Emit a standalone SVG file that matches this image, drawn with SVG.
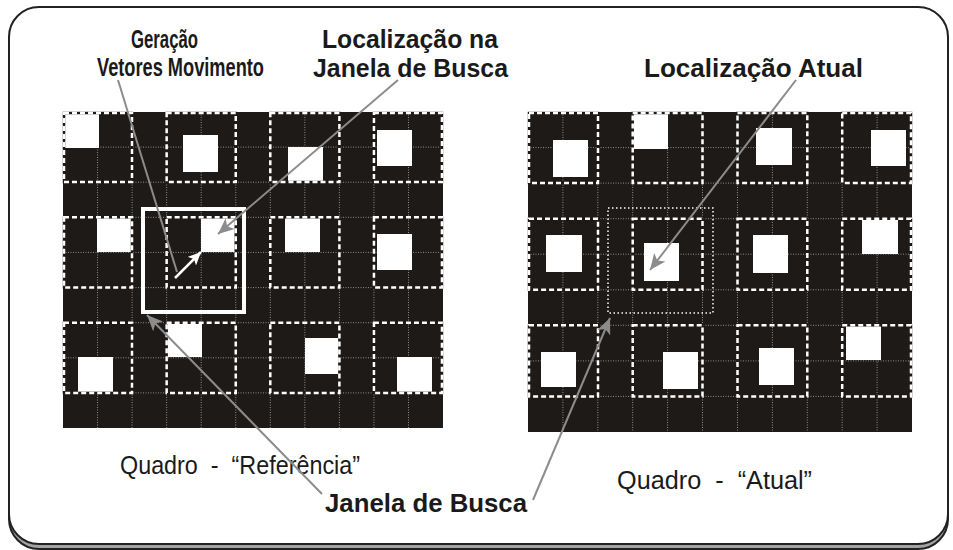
<svg xmlns="http://www.w3.org/2000/svg" width="953" height="550" viewBox="0 0 953 550">
<style>
.frame{fill:#1e1a18}
.grid{stroke:#8f8f8f;stroke-width:1;stroke-dasharray:1 1.5;fill:none}
.blk{fill:none;stroke:#fff;stroke-width:2.5;stroke-dasharray:5 3}
.blkb{fill:none;stroke:#1e1a18;stroke-width:2.5}
.sq{fill:#fff}
.lbl{font-family:"Liberation Sans",Arial,sans-serif;font-weight:bold;font-size:25px;fill:#1a1a1a}
.cap{font-family:"Liberation Sans",Arial,sans-serif;font-size:25px;fill:#1a1a1a}
.ptr{stroke:#8c8c8c;stroke-width:2;fill:none}
</style>
<defs>
<marker id="ah" markerUnits="userSpaceOnUse" markerWidth="18" markerHeight="14" refX="16" refY="7" orient="auto">
<path d="M0,0 L16,7 L0,14 L4,7 Z" fill="#8c8c8c"/>
</marker>
<marker id="ahw" markerUnits="userSpaceOnUse" markerWidth="14" markerHeight="12" refX="13" refY="6" orient="auto">
<path d="M0,0 L13,6 L0,12 L3,6 Z" fill="#fff"/>
</marker>
<g id="blocksL">
<rect x="64" y="113" width="68" height="69"/>
<rect x="166.65" y="113" width="69.1" height="69"/>
<rect x="270.3" y="113" width="69.1" height="69"/>
<rect x="373.95" y="113" width="68" height="69"/>
<rect x="64" y="217.3" width="68" height="70.2"/>
<rect x="166.65" y="217.3" width="69.1" height="70.2"/>
<rect x="270.3" y="217.3" width="69.1" height="70.2"/>
<rect x="373.95" y="217.3" width="68" height="70.2"/>
<rect x="64" y="322.7" width="68" height="70.2"/>
<rect x="166.65" y="322.7" width="69.1" height="70.2"/>
<rect x="270.3" y="322.7" width="69.1" height="70.2"/>
<rect x="373.95" y="322.7" width="68" height="70.2"/>
</g>
<g id="blocksR">
<rect x="529" y="113" width="69" height="70"/>
<rect x="632.7" y="113" width="69.8" height="70"/>
<rect x="737.5" y="113" width="69.8" height="70"/>
<rect x="842.2" y="113" width="68.8" height="70"/>
<rect x="529" y="218.7" width="69" height="71.1"/>
<rect x="632.7" y="218.7" width="69.8" height="71.1"/>
<rect x="737.5" y="218.7" width="69.8" height="71.1"/>
<rect x="842.2" y="218.7" width="68.8" height="71.1"/>
<rect x="529" y="325.3" width="69" height="71.1"/>
<rect x="632.7" y="325.3" width="69.8" height="71.1"/>
<rect x="737.5" y="325.3" width="69.8" height="71.1"/>
<rect x="842.2" y="325.3" width="68.8" height="71.1"/>
</g>
</defs>

<rect x="9" y="12" width="939" height="537" rx="30" fill="#a3a3a3" stroke="#222" stroke-width="2"/>
<rect x="9" y="7" width="939" height="537" rx="30" fill="#fff" stroke="#222" stroke-width="2"/>

<g id="quadro-referencia">
<rect class="frame" x="63" y="112" width="380" height="316"/>
<path class="grid" d="M97.55,112V428M132.1,112V428M166.65,112V428M201.2,112V428M235.75,112V428M270.3,112V428M304.85,112V428M339.4,112V428M373.95,112V428M408.5,112V428M63,147.1H443M63,182.2H443M63,217.3H443M63,252.4H443M63,287.6H443M63,322.7H443M63,357.8H443M63,392.9H443"/>
<rect class="sq" x="63" y="112" width="36" height="36"/>
<rect class="sq" x="183" y="135" width="35" height="37"/>
<rect class="sq" x="288" y="147" width="35" height="35"/>
<rect class="sq" x="377" y="130" width="35" height="36"/>
<rect class="sq" x="97" y="217" width="35" height="35"/>
<rect class="sq" x="201" y="217" width="35" height="35"/>
<rect class="sq" x="285" y="217" width="35" height="35"/>
<rect class="sq" x="377" y="234" width="35" height="36"/>
<rect class="sq" x="78" y="357" width="35" height="35"/>
<rect class="sq" x="167" y="322" width="35" height="35"/>
<rect class="sq" x="305" y="338" width="35" height="36"/>
<rect class="sq" x="397" y="357" width="35" height="35"/>
<use href="#blocksL" class="blkb"/>
<use href="#blocksL" class="blk"/>
<rect id="janela-ref" x="143" y="209" width="101" height="103" fill="none" stroke="#fff" stroke-width="4"/>
</g>

<g id="quadro-atual">
<rect class="frame" x="528" y="112" width="384" height="320"/>
<path class="grid" d="M562.9,112V432M597.8,112V432M632.7,112V432M667.6,112V432M702.5,112V432M737.5,112V432M772.4,112V432M807.3,112V432M842.2,112V432M877.1,112V432M528,147.6H912M528,183.1H912M528,218.7H912M528,254.2H912M528,289.8H912M528,325.3H912M528,360.9H912M528,396.4H912"/>
<rect class="sq" x="553" y="140" width="35" height="37"/>
<rect class="sq" x="633" y="112" width="35" height="37"/>
<rect class="sq" x="756" y="128" width="36" height="37"/>
<rect class="sq" x="871" y="130" width="35" height="36"/>
<rect class="sq" x="546" y="235" width="36" height="37"/>
<rect class="sq" x="644" y="243" width="35" height="38"/>
<rect class="sq" x="753" y="235" width="35" height="38"/>
<rect class="sq" x="862" y="218" width="36" height="36"/>
<rect class="sq" x="541" y="352" width="35" height="35"/>
<rect class="sq" x="663" y="352" width="35" height="37"/>
<rect class="sq" x="759" y="348" width="35" height="37"/>
<rect class="sq" x="846" y="324" width="35" height="36"/>
<use href="#blocksR" class="blkb"/>
<use href="#blocksR" class="blk"/>
<rect id="janela-atual" x="608" y="208" width="105" height="105" fill="none" stroke="#fff" stroke-width="1.5" stroke-dasharray="1.5 2.5"/>
</g>

<g id="label-geracao">
<text class="lbl" x="131" y="48" textLength="67" lengthAdjust="spacingAndGlyphs">Geração</text>
<text class="lbl" x="97" y="76" textLength="167" lengthAdjust="spacingAndGlyphs">Vetores Movimento</text>
</g>
<g id="label-localizacao-janela">
<text class="lbl" x="322" y="48" textLength="176" lengthAdjust="spacingAndGlyphs">Localização na</text>
<text class="lbl" x="313" y="77" textLength="195" lengthAdjust="spacingAndGlyphs">Janela de Busca</text>
</g>
<g id="label-localizacao-atual">
<text class="lbl" x="644" y="77" textLength="219" lengthAdjust="spacingAndGlyphs">Localização Atual</text>
</g>
<g id="label-quadro-ref">
<text class="cap" x="120" y="474" textLength="240" lengthAdjust="spacingAndGlyphs" xml:space="preserve">Quadro  -  “Referência”</text>
</g>
<g id="label-quadro-atual">
<text class="cap" x="617" y="489" textLength="195" lengthAdjust="spacingAndGlyphs" xml:space="preserve">Quadro  -  “Atual”</text>
</g>
<g id="label-janela-busca">
<text class="lbl" x="325" y="512" textLength="202" lengthAdjust="spacingAndGlyphs">Janela de Busca</text>
</g>

<g id="connectors">
<line class="ptr" x1="118" y1="80" x2="177" y2="272"/>
<line class="ptr" x1="398" y1="80" x2="218" y2="234" marker-end="url(#ah)"/>
<line class="ptr" x1="796" y1="80" x2="650" y2="270" marker-end="url(#ah)"/>
<line class="ptr" x1="322" y1="494" x2="147" y2="315" marker-end="url(#ah)"/>
<line class="ptr" x1="533" y1="500" x2="610" y2="318" marker-end="url(#ah)"/>
<line x1="175" y1="278" x2="201" y2="252" stroke="#fff" stroke-width="2.5" marker-end="url(#ahw)"/>
</g>
</svg>
